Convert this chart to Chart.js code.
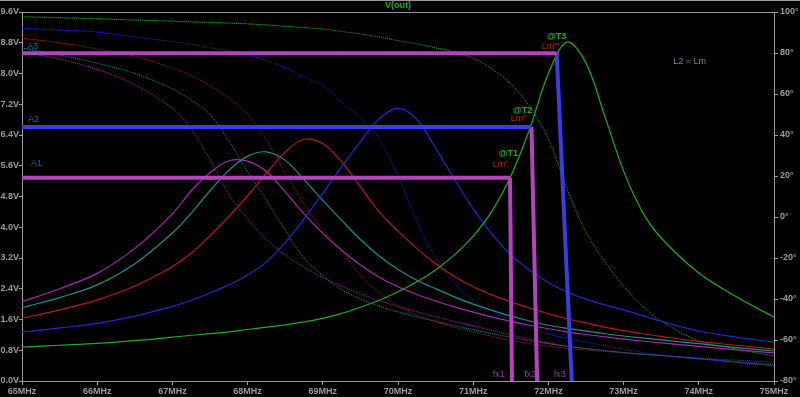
<!DOCTYPE html>
<html>
<head>
<meta charset="utf-8">
<script src="https://cdn.jsdelivr.net/npm/chart.js@4/dist/chart.umd.min.js"></script>
<style>
  html, body { margin: 0; padding: 0; background: #000; }
  canvas { display: block; }
</style>
</head>
<body>
<canvas id="plot" width="800" height="397"></canvas>
<script>
// frequency grid in MHz
const FREQ_MHZ = [65, 65.5, 66, 66.5, 67, 67.25, 67.5, 67.75, 68, 68.25, 68.5, 68.75, 69, 69.25, 69.5, 69.75,
	70, 70.25, 70.5, 70.75, 71, 71.25, 71.5, 71.75, 72, 72.25, 72.5, 72.75, 73, 73.25, 73.5, 74, 74.5, 75];

// magnitude V(out) in volts, one array per step of the sweep
const MAG_GREEN = [0.88, 0.93, 0.98, 1.05, 1.14, 1.19, 1.23, 1.28, 1.34, 1.40, 1.46, 1.54, 1.63, 1.76, 1.92, 2.10,
	2.32, 2.58, 2.89, 3.28, 3.77, 4.42, 5.33, 6.55, 8.00, 8.82, 8.27, 6.89, 5.46, 4.40, 3.72, 2.81, 2.19, 1.66];
const MAG_BLUE = [1.27, 1.38, 1.50, 1.69, 1.94, 2.10, 2.29, 2.50, 2.76, 3.10, 3.60, 4.22, 4.88, 5.57, 6.23, 6.82,
	7.10, 6.80, 6.06, 5.25, 4.48, 3.82, 3.28, 2.88, 2.56, 2.31, 2.13, 1.98, 1.85, 1.70, 1.55, 1.30, 1.14, 1.01];
const MAG_RED = [1.63, 1.85, 2.11, 2.47, 2.98, 3.33, 3.78, 4.28, 4.82, 5.40, 5.96, 6.29, 6.17, 5.70, 5.05, 4.40,
	3.90, 3.45, 3.05, 2.72, 2.45, 2.24, 2.06, 1.90, 1.75, 1.62, 1.51, 1.40, 1.31, 1.23, 1.16, 1.03, 0.93, 0.83];
const MAG_TEAL = [1.91, 2.17, 2.50, 3.05, 3.85, 4.37, 4.95, 5.48, 5.85, 5.96, 5.74, 5.24, 4.70, 4.18, 3.68, 3.25,
	2.90, 2.62, 2.40, 2.19, 2.00, 1.84, 1.69, 1.56, 1.45, 1.37, 1.30, 1.23, 1.17, 1.12, 1.07, 0.97, 0.87, 0.78];
const MAG_PURPLE = [2.06, 2.40, 2.80, 3.45, 4.35, 4.95, 5.42, 5.73, 5.72, 5.45, 4.92, 4.35, 3.84, 3.40, 3.02, 2.70,
	2.45, 2.25, 2.08, 1.93, 1.79, 1.66, 1.55, 1.45, 1.36, 1.28, 1.21, 1.15, 1.09, 1.04, 0.99, 0.90, 0.81, 0.73];

// phase in degrees (dotted traces, right axis)
const PHASE_GREEN = [97.7, 97.2, 96.7, 96.1, 95.5, 95.2, 94.9, 94.6, 94.2, 93.7, 93.0, 92.4, 91.7, 90.5, 89.3, 87.8,
	86.0, 84.5, 82.5, 80.5, 77.5, 72.2, 65.0, 54.0, 38.0, 13.5, -7.3, -21.7, -33.7, -43.4, -50.7, -60.5, -64.4, -67.8];
const PHASE_BLUE = [92.0, 91.2, 90.2, 87.8, 85.6, 84.3, 82.6, 81.1, 79.2, 76.3, 72.8, 68.3, 64.0, 56.0, 48.0, 38.0,
	20.0, -2.0, -20.0, -32.2, -40.5, -45.9, -50.2, -54.0, -57.1, -59.2, -61.0, -62.8, -64.4, -66.0, -67.3, -69.3, -70.6, -71.7];
const PHASE_RED = [87.2, 85.0, 82.0, 78.5, 72.5, 69.0, 64.0, 58.0, 50.0, 37.6, 21.5, 6.5, -6.5, -16.5, -28.5, -37.0,
	-43.5, -48.0, -51.0, -53.8, -56.0, -58.2, -60.2, -61.8, -63.1, -64.1, -64.9, -65.6, -66.3, -67.0, -67.6, -68.8, -69.8, -70.7];
const PHASE_TEAL = [82.4, 79.0, 75.0, 70.0, 62.5, 57.0, 50.0, 37.2, 22.0, 8.3, -6.5, -20.0, -28.5, -35.5, -40.0, -43.5,
	-46.3, -48.7, -50.9, -53.0, -55.0, -56.9, -58.7, -60.3, -61.8, -63.1, -64.2, -65.2, -66.1, -66.9, -67.6, -69.0, -70.6, -72.2];
const PHASE_PURPLE = [80.6, 77.0, 72.0, 64.5, 53.0, 43.0, 28.0, 11.0, -1.0, -11.0, -18.5, -24.5, -29.5, -33.8, -37.5, -40.8,
	-43.6, -46.2, -48.6, -50.9, -53.1, -55.4, -57.5, -59.6, -61.5, -63.0, -64.2, -65.2, -66.1, -66.9, -67.6, -69.2, -70.9, -72.7];

// cursor annotations: levels A1..A3 (V), fx1..fx3 (MHz at the level, MHz at 0 V)
const LEVEL_V = [5.29, 6.61, 8.53];
const FX_TOP_MHZ = [71.49, 71.775, 72.11];
const FX_BOTTOM_MHZ = [71.515, 71.85, 72.31];

// axis ranges
const X_MIN = 65, X_MAX = 75, X_STEP = 1;
const V_MIN = 0, V_MAX = 9.6, V_STEP = 0.8;
const DEG_MIN = -80, DEG_MAX = 100, DEG_STEP = 20;

const COLORS = {
	green: "#22a822",
	blue: "#2424d4",
	red: "#b41818",
	teal: "#1c8c8c",
	purple: "#a826ae",
	cursorPink: "#b444bc",
	cursorBlue: "#3c3ce4",
	axis: "#9a9a9a",
};

// [text, MHz, V, color, bold]
const NOTES = [
	["A3", 65.07, 8.71, "#3058b0", false],
	["A2", 65.08, 6.79, "#3058b0", false],
	["A1", 65.12, 5.65, "#3058b0", false],
	["@T3", 71.98, 8.95, "#22a822", true],
	["Lm'''", 71.91, 8.69, "#c02020", false],
	["@T2", 71.53, 7.05, "#22a822", true],
	["Lm''", 71.50, 6.82, "#c02020", false],
	["@T1", 71.34, 5.93, "#22a822", true],
	["Lm'", 71.26, 5.62, "#c02020", false],
	["L2 = Lm", 73.66, 8.32, "#5f8e9e", false],
	["fx1", 71.26, 0.18, "#8a3a9c", false],
	["fx2", 71.68, 0.18, "#8a3a9c", false],
	["fx3", 72.07, 0.18, "#8a3a9c", false],
];

function pairs(values) {
	return FREQ_MHZ.map((f, i) => ({ x: f, y: values[i] }));
}

function magSet(values, color) {
	return {
		data: pairs(values),
		yAxisID: "y",
		borderColor: color,
		borderWidth: 1.2,
		tension: 0.35,
	};
}

function phaseSet(values, color) {
	return {
		data: pairs(values),
		yAxisID: "y1",
		borderColor: color,
		borderWidth: 1,
		borderDash: [1, 1],
		tension: 0.35,
	};
}

function cursorSet(points, color) {
	return { data: points, yAxisID: "y", borderColor: color, borderWidth: 4, tension: 0 };
}

const cursorSets = [];
const levelColors = [COLORS.cursorPink, COLORS.cursorBlue, COLORS.cursorPink];
const dropColors = [COLORS.cursorPink, COLORS.cursorPink, COLORS.cursorBlue];
LEVEL_V.forEach((v, i) => {
	cursorSets.push(cursorSet([{ x: X_MIN, y: v }, { x: FX_TOP_MHZ[i], y: v }], levelColors[i]));
	cursorSets.push(cursorSet([{ x: FX_TOP_MHZ[i], y: v }, { x: FX_BOTTOM_MHZ[i], y: V_MIN }], dropColors[i]));
});

const tickFont = { family: "Liberation Sans", size: 9, weight: "bold" };

const decor = {
	id: "decor",
	afterDraw(chart) {
		const { ctx, chartArea, scales } = chart;
		ctx.save();
		ctx.strokeStyle = COLORS.axis;
		ctx.lineWidth = 1;
		ctx.beginPath();
		ctx.moveTo(0, 0.5);
		ctx.lineTo(chart.width, 0.5);
		ctx.moveTo(chartArea.left, chartArea.top + 0.5);
		ctx.lineTo(chartArea.right, chartArea.top + 0.5);
		ctx.stroke();

		ctx.fillStyle = COLORS.green;
		ctx.font = "bold 9px 'Liberation Sans'";
		ctx.textAlign = "center";
		ctx.textBaseline = "middle";
		ctx.fillText("V(out)", (chartArea.left + chartArea.right) / 2, chartArea.top / 2);

		ctx.textAlign = "left";
		NOTES.forEach(([text, f, v, color, bold]) => {
			ctx.fillStyle = color;
			ctx.font = (bold ? "bold " : "") + "9px 'Liberation Sans'";
			ctx.fillText(text, scales.x.getPixelForValue(f), scales.y.getPixelForValue(v));
		});
		ctx.restore();
	},
};

new Chart(document.getElementById("plot"), {
	type: "line",
	data: {
		datasets: [
			...cursorSets,
			magSet(MAG_GREEN, COLORS.green),
			magSet(MAG_BLUE, COLORS.blue),
			magSet(MAG_RED, COLORS.red),
			magSet(MAG_TEAL, COLORS.teal),
			magSet(MAG_PURPLE, COLORS.purple),
			phaseSet(PHASE_GREEN, COLORS.green),
			phaseSet(PHASE_BLUE, COLORS.blue),
			phaseSet(PHASE_RED, COLORS.red),
			phaseSet(PHASE_TEAL, COLORS.teal),
			phaseSet(PHASE_PURPLE, COLORS.purple),
		],
	},
	options: {
		responsive: false,
		animation: false,
		layout: { padding: { top: 12, left: 0, right: 0, bottom: 0 } },
		elements: { point: { radius: 0 }, line: { fill: false } },
		plugins: { legend: { display: false }, tooltip: { enabled: false } },
		scales: {
			x: {
				type: "linear",
				min: X_MIN,
				max: X_MAX,
				afterFit: (s) => { s.height = 16; },
				border: { color: COLORS.axis },
				grid: { drawOnChartArea: false, drawTicks: true, tickLength: 4, color: COLORS.axis },
				ticks: {
					stepSize: X_STEP,
					autoSkip: false,
					maxRotation: 0,
					padding: 1,
					color: COLORS.axis,
					font: tickFont,
					callback: (v) => v + "MHz",
				},
			},
			y: {
				position: "left",
				min: V_MIN,
				max: V_MAX,
				afterFit: (s) => { s.width = 22; },
				border: { color: COLORS.axis },
				grid: { drawOnChartArea: false, drawTicks: true, tickLength: 3, color: COLORS.axis },
				ticks: {
					stepSize: V_STEP,
					padding: 0,
					color: COLORS.axis,
					font: tickFont,
					callback: (v) => Number(v).toFixed(1) + "V",
				},
			},
			y1: {
				position: "right",
				min: DEG_MIN,
				max: DEG_MAX,
				afterFit: (s) => { s.width = 26; },
				border: { color: COLORS.axis },
				grid: { drawOnChartArea: false, drawTicks: true, tickLength: 4, color: COLORS.axis },
				ticks: {
					stepSize: DEG_STEP,
					padding: 2,
					color: COLORS.axis,
					font: tickFont,
					callback: (v) => v + "°",
				},
			},
		},
	},
	plugins: [decor],
});
</script>
</body>
</html>
